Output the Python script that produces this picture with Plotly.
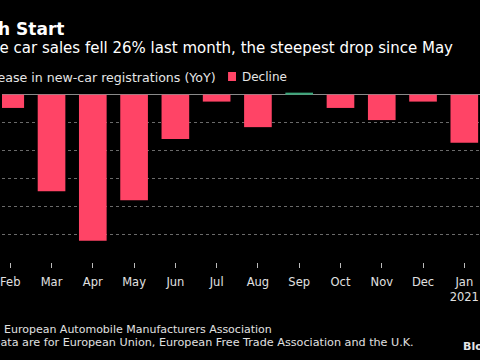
import plotly.graph_objects as go

categories = ["Jan 2020", "Feb", "Mar", "Apr", "May", "Jun", "Jul", "Aug",
              "Sep", "Oct", "Nov", "Dec", "Jan 2021"]
tick_labels = ["Jan", "Feb", "Mar", "Apr", "May", "Jun", "Jul", "Aug",
               "Sep", "Oct", "Nov", "Dec", "Jan<br>2021"]
yoy_change = [-7.4, -7.1, -51.8, -78.3, -56.6, -23.8, -3.7, -17.4,
              1.1, -7.1, -13.6, -3.7, -25.7]
grid_vals = [-75, -60, -45, -30, -15]

RED = "#ff4466"
GREEN = "#3aa67a"
colors = [GREEN if v > 0 else RED for v in yoy_change]

W, H = 480, 360
TOP, BOTTOM = 90, 262
PH = BOTTOM - TOP


def px(x):
    return x / W


def py(y):
    return (BOTTOM - y) / PH


FONT = "DejaVu Sans"

fig = go.Figure()
fig.add_trace(go.Bar(x=categories, y=yoy_change, marker_color=colors,
                     marker_line_width=0, showlegend=False))

annotations = [
    dict(text="<b>Rough Start</b>", x=px(64), y=py(29), xanchor="right",
         font=dict(size=17, color="white")),
    dict(text="Europe car sales fell 26% last month, the steepest drop since May",
         x=px(455), y=py(48), xanchor="right", font=dict(size=15, color="white")),
    dict(text="Increase in new-car registrations (YoY)", x=px(217), y=py(77),
         xanchor="right", font=dict(size=12.6, color="#e6e6e6")),
    dict(text="Decline", x=px(239), y=py(77), xanchor="left",
         font=dict(size=12, color="#e6e6e6")),
    dict(text="Source: European Automobile Manufacturers Association",
         x=px(273), y=py(329), xanchor="right", font=dict(size=11, color="#e0e0e0")),
    dict(text="Note: Data are for European Union, European Free Trade Association and the U.K.",
         x=px(416), y=py(342), xanchor="right", font=dict(size=11.2, color="#e0e0e0")),
    dict(text="<b>Bloomberg</b>", x=px(461), y=py(346), xanchor="left",
         font=dict(size=11, color="#e6e6e6")),
]
for a in annotations:
    a.update(xref="paper", yref="paper", yanchor="middle", showarrow=False)

fig.update_layout(
    width=W, height=H,
    margin=dict(l=0, r=0, t=TOP, b=H - BOTTOM, pad=0),
    paper_bgcolor="black", plot_bgcolor="black",
    font=dict(family=FONT, color="#e6e6e6"),
    bargap=0.33,
    annotations=annotations,
    shapes=[dict(type="rect", xref="paper", yref="paper",
                 x0=px(227), x1=px(235), y0=py(81), y1=py(72),
                 fillcolor=RED, line_width=0)],
    xaxis=dict(type="category", range=[0.80, 12.38], tickvals=categories,
               ticktext=tick_labels, ticks="outside", ticklen=5, tickwidth=1,
               tickcolor="#bbbbbb", showgrid=False, showline=False,
               zeroline=False, ticklabelstandoff=4,
               tickfont=dict(size=11.5, color="#e0e0e0")),
    yaxis=dict(range=[-89.7, 2.52], tickvals=grid_vals, showticklabels=False,
               showgrid=True, gridcolor="#6a6a6a", griddash="dot", gridwidth=1,
               zeroline=True, zerolinecolor="#8a8a8a", zerolinewidth=1,
               showline=False, ticks=""),
)

fig.write_html(
    "out.html",
    config={"displayModeBar": False},
    post_script="document.body.style.margin='0';document.body.style.background='black';document.body.style.overflow='hidden';",
)
